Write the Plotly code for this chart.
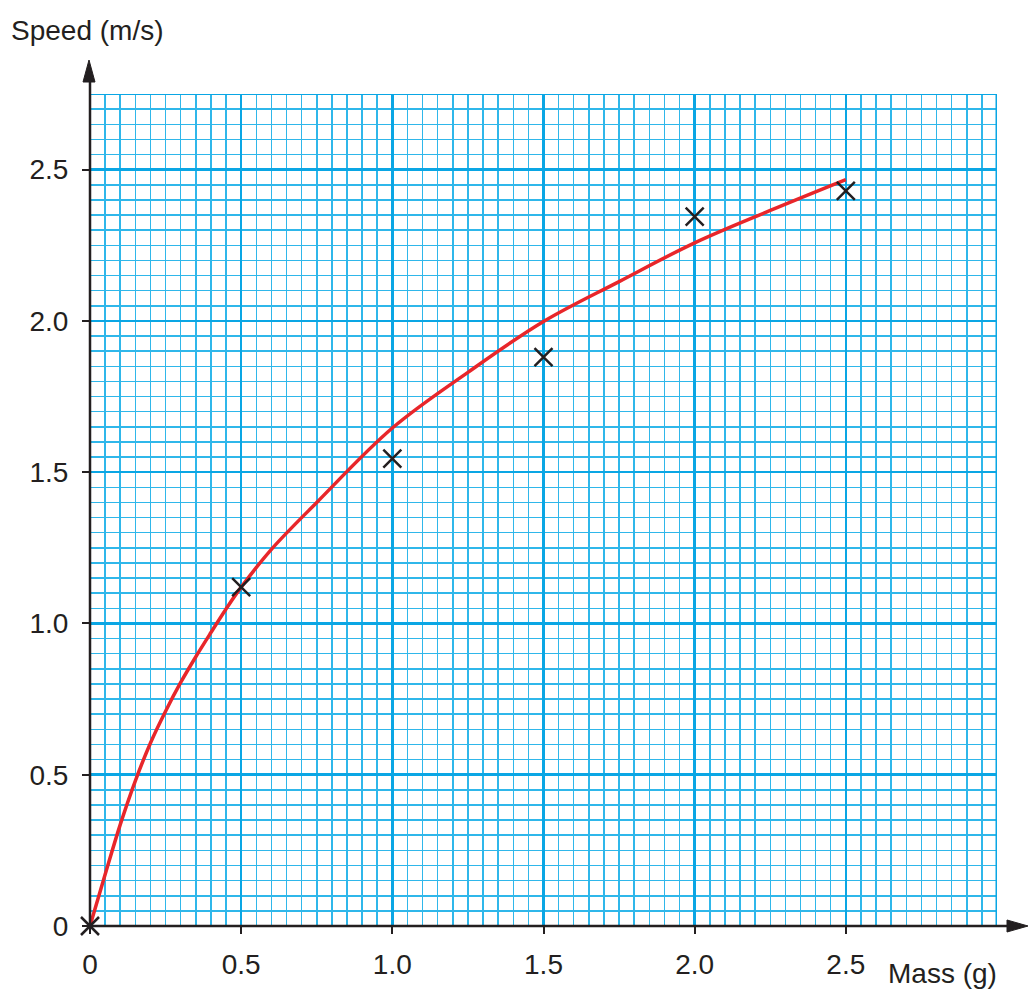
import plotly.graph_objects as go

# Measured points (crosses)
mass = [0, 0.5, 1.0, 1.5, 2.0, 2.5]
speed = [0, 1.12, 1.545, 1.88, 2.345, 2.43]

# Hand-drawn best-fit curve
curve_x = [0, 0.05, 0.1, 0.15, 0.2, 0.25, 0.3, 0.35, 0.4, 0.45, 0.5, 0.6, 0.75,
           1.0, 1.25, 1.5, 1.75, 2.0, 2.25, 2.5]
curve_y = [0, 0.17, 0.335, 0.48, 0.605, 0.71, 0.805, 0.89, 0.97, 1.048, 1.12, 1.245, 1.40,
           1.646, 1.83, 1.998, 2.13, 2.258, 2.365, 2.467]

x_ticks = [0, 0.5, 1.0, 1.5, 2.0, 2.5]
x_ticktext = ["0", "0.5", "1.0", "1.5", "2.0", "2.5"]
y_ticks = [0, 0.5, 1.0, 1.5, 2.0, 2.5]
y_ticktext = ["0", "0.5", "1.0", "1.5", "2.0", "2.5"]

# graph-paper rulings (every 0.05)
x_minor = [round(i * 0.05, 2) for i in range(61)]
y_minor = [round(i * 0.05, 2) for i in range(56)]

INK = "#231f20"
MINOR = "#2fb7ea"
MAJOR = "#0aa6e4"
FONT = "Liberation Sans, Arial, sans-serif"

fig = go.Figure()
fig.add_trace(go.Scatter(x=curve_x, y=curve_y, mode="lines",
                         line=dict(color="#e8262a", width=3.5, shape="spline", smoothing=1.0),
                         hoverinfo="skip", cliponaxis=False))
fig.add_trace(go.Scatter(x=mass, y=speed, mode="markers",
                         marker=dict(symbol="x-thin", size=18, line=dict(color=INK, width=2.5)),
                         cliponaxis=False))

W, H = 1028, 991
L, R, T, B = 90, 31, 94, 65
pw, ph = W - L - R, H - T - B

def px(xp):
    return (xp - L) / pw

def py(yp):
    return (H - B - yp) / ph

shapes = []
shapes.append(dict(type="line", xref="x", yref="y", x0=3.0, x1=3.0, y0=0, y1=2.75,
                   line=dict(color=MAJOR, width=3), layer="between"))
shapes.append(dict(type="line", xref="x", yref="y", x0=0, x1=3.0, y0=2.75, y1=2.75,
                   line=dict(color=MAJOR, width=2), layer="between"))
shapes.append(dict(type="line", xref="paper", yref="paper", x0=0, x1=0, y0=0, y1=py(78),
                   line=dict(color=INK, width=2.5), layer="above"))
shapes.append(dict(type="line", xref="paper", yref="paper", x0=0, x1=px(1010), y0=0, y1=0,
                   line=dict(color=INK, width=2.5), layer="above"))
shapes.append(dict(type="path", xref="paper", yref="paper",
                   path=f"M {px(89)} {py(60)} L {px(95)} {py(82)} L {px(83)} {py(82)} Z",
                   fillcolor=INK, line=dict(color=INK, width=1), layer="above"))
shapes.append(dict(type="path", xref="paper", yref="paper",
                   path=f"M {px(1028)} {py(926)} L {px(1007)} {py(920)} L {px(1007)} {py(932)} Z",
                   fillcolor=INK, line=dict(color=INK, width=1), layer="above"))

fig.update_layout(
    template="none",
    width=W, height=H,
    margin=dict(l=L, r=R, t=T, b=B, pad=0),
    paper_bgcolor="white", plot_bgcolor="white",
    showlegend=False,
    font=dict(family=FONT, size=28, color=INK),
    shapes=shapes,
    annotations=[
        dict(text="Speed (m/s)", xref="paper", yref="paper", x=px(9), y=py(30),
             xanchor="left", yanchor="middle", showarrow=False, font=dict(size=28, color=INK)),
        dict(text="Mass (g)", xref="paper", yref="paper", x=px(999), y=py(973),
             xanchor="right", yanchor="middle", showarrow=False, font=dict(size=28, color=INK)),
    ],
    xaxis=dict(range=[0, 3.0], tickmode="array", tickvals=x_ticks, ticktext=x_ticktext,
               showgrid=True, gridcolor=MAJOR, gridwidth=2.5, zeroline=False, showline=False,
               ticks="outside", ticklen=7, tickwidth=2, tickcolor=INK,
               ticklabelstandoff=6,
               minor=dict(tickmode="array", tickvals=x_minor, showgrid=True,
                          gridcolor=MINOR, gridwidth=1.5, ticks=""),
               fixedrange=True),
    yaxis=dict(range=[0, 2.75], tickmode="array", tickvals=y_ticks, ticktext=y_ticktext,
               showgrid=True, gridcolor=MAJOR, gridwidth=2.5, zeroline=False, showline=False,
               ticks="outside", ticklen=7, tickwidth=2, tickcolor=INK,
               ticklabelstandoff=8,
               minor=dict(tickmode="array", tickvals=y_minor, showgrid=True,
                          gridcolor=MINOR, gridwidth=1.5, ticks=""),
               fixedrange=True),
)

fig.write_html("out.html", config={"staticPlot": True})
